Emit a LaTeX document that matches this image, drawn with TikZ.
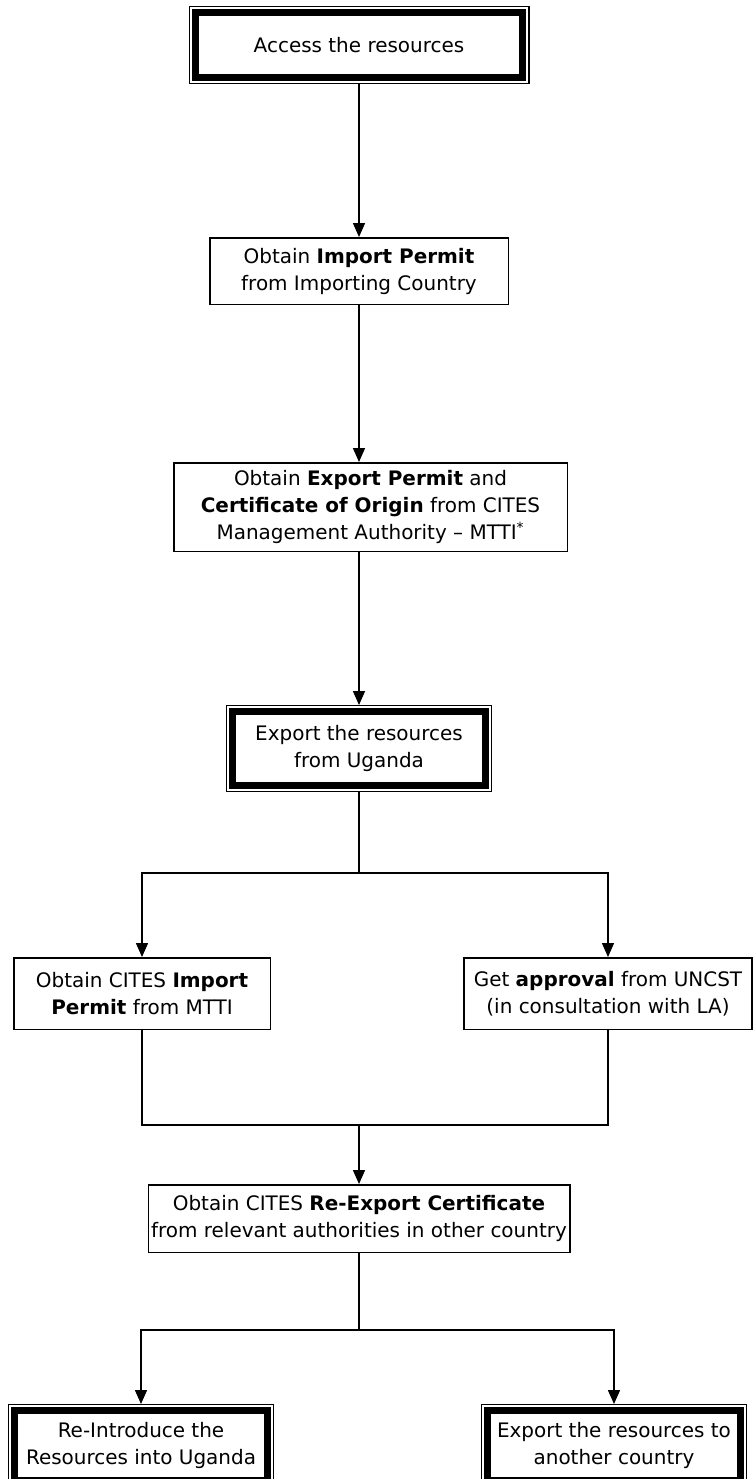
\documentclass[tikz,border=0pt]{standalone}
\usepackage{fontspec}
\setmainfont{DejaVu Sans}
\usepackage{tikz}
\usetikzlibrary{arrows.meta}
\usetikzlibrary{fit, calc}
\usetikzlibrary{positioning}

\tikzset{
  every node/.style={font=\fontsize{14.2}{19.2}\selectfont},
  plainbox/.style={draw, line width=0.0375cm, align=center, inner sep=0pt},
  thickbox/.style={draw, line width=0.17cm, align=center, inner sep=0pt, outer sep=0pt},
  thinframe/.style={draw, line width=0.035cm, inner sep=0.1525cm},
  arr/.style={-{Triangle[width=0.3cm, length=0.35cm]}},
  link/.style={line width=0.0375cm}
}

\begin{document}
\begin{tikzpicture}

\useasboundingbox (0,0) rectangle (18.85,-36.975);

\node[thickbox, minimum width=8.185cm, minimum height=1.61cm] at (8.975, -1.125) (b1) {Access the resources};
\node[thinframe, fit=(b1)] (f1) {};

\node[plainbox, minimum width=7.4625cm, minimum height=1.6625cm] at (8.975, -6.775) (box2) {Obtain \textbf{Import Permit}\\from Importing Country};

\node[plainbox, minimum width=9.8375cm, minimum height=2.2125cm] at (9.2625, -12.675) (box3) {Obtain \textbf{Export Permit} and\\\textbf{Certificate of Origin} from CITES\\Management Authority \textendash{} MTTI\textsuperscript{*}};

\node[thickbox, minimum width=6.31cm, minimum height=1.835cm] at (8.975, -18.7125) (b4) {Export the resources\\from Uganda};
\node[thinframe, fit=(b4)] (f4) {};

% the two branches
\node[plainbox, minimum width=6.4125cm, minimum height=1.7875cm] at (3.55, -24.8375) (box5) {Obtain CITES \textbf{Import}\\\textbf{Permit} from MTTI};
\node[plainbox, minimum width=7.2cm, minimum height=1.7875cm] at (15.2, -24.8375) (box6) {Get \textbf{approval} from UNCST\\(in consultation with LA)};

\node[plainbox, minimum width=10.5375cm, minimum height=1.6875cm] at (8.975, -30.4625) (box7) {Obtain CITES \textbf{Re-Export Certificate}\\from relevant authorities in other country};

\node[thickbox, minimum width=6.31cm, minimum height=1.735cm] at (3.525, -36.1375) (b8) {Re-Introduce the\\Resources into Uganda};
\node[thinframe, fit=(b8)] (f8) {};
\node[thickbox, minimum width=6.31cm, minimum height=1.735cm] at (15.35, -36.1375) (b9) {Export the resources to\\another country};
\node[thinframe, fit=(b9)] (f9) {};

\coordinate (sp1) at (8.975, -21.825);
\coordinate (jn) at (8.975, -28.125);
\coordinate (sp2) at (8.975, -33.25);

\draw[link, arr] (f1) -- (box2);
\draw[link, arr] (box2) -- (box2 |- box3.north);
\draw[link, arr] (box2 |- box3.south) -- (f4);

\draw[link] (f4) -- (sp1);
\draw[link, arr] (sp1) -| (box5);
\draw[link, arr] (sp1) -| (box6);

\draw[link] (box5) |- (jn);
\draw[link] (box6) |- (jn);
\draw[link, arr] (jn) -- (box7);

\draw[link] (box7) -- (sp2);
\draw[link, arr] (sp2) -| (f8);
\draw[link, arr] (sp2) -| (f9);

\end{tikzpicture}
\end{document}
